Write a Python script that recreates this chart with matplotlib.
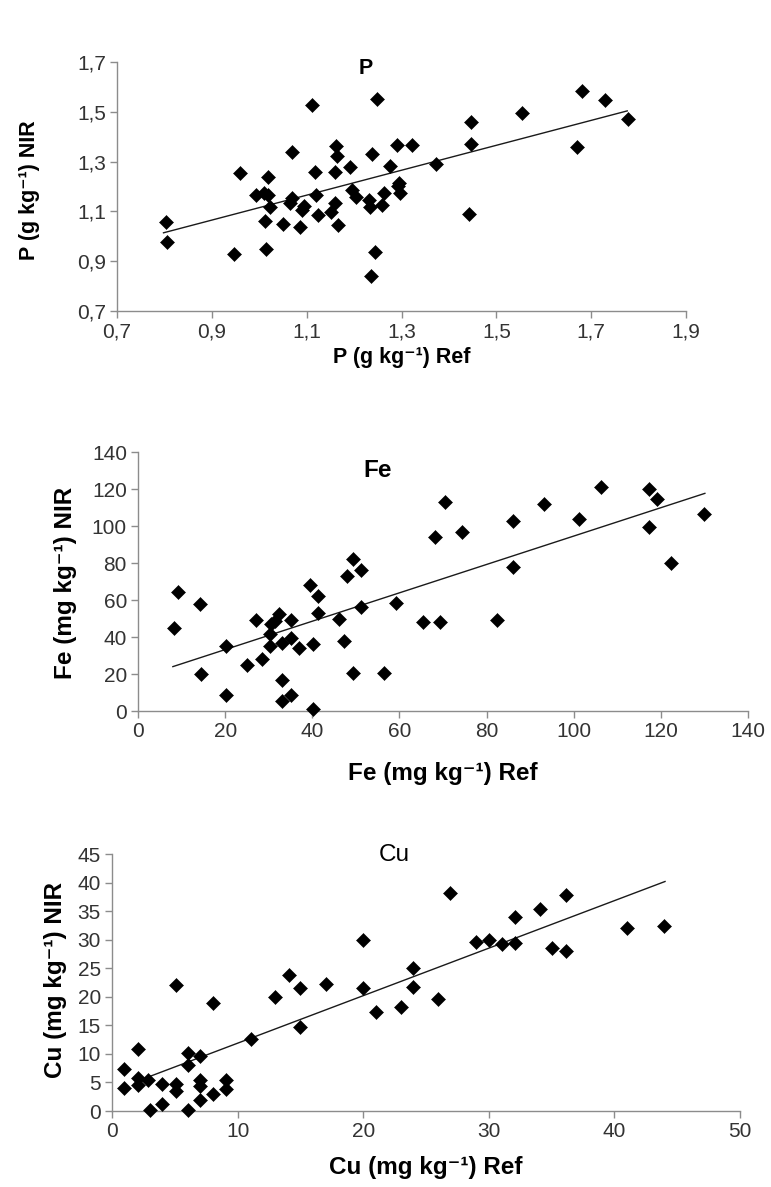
import matplotlib
matplotlib.use("Agg")
import matplotlib.pyplot as plt
import numpy as np

plt.rcParams['font.family'] = ['Liberation Sans', 'DejaVu Sans']

# P (g kg-1): reference vs NIR
p_ref = [0.803, 0.805, 0.947, 0.960, 0.993, 1.010, 1.019, 1.019, 1.023, 1.012,
         1.015, 1.051, 1.065, 1.068, 1.068, 1.085, 1.091, 1.094, 1.111, 1.118,
         1.120, 1.123, 1.152, 1.159, 1.162, 1.163, 1.160, 1.166, 1.192, 1.196,
         1.203, 1.232, 1.233, 1.238, 1.249, 1.244, 1.236, 1.258, 1.263, 1.275,
         1.290, 1.293, 1.297, 1.295, 1.323, 1.373, 1.447, 1.447, 1.442, 1.554,
         1.670, 1.681, 1.729, 1.778]
p_nir = [1.058, 0.977, 0.929, 1.253, 1.166, 1.172, 1.237, 1.166, 1.118, 1.062,
         0.950, 1.051, 1.132, 1.152, 1.337, 1.037, 1.105, 1.121, 1.526, 1.257,
         1.166, 1.085, 1.098, 1.132, 1.364, 1.323, 1.257, 1.044, 1.278, 1.186,
         1.159, 1.145, 1.118, 1.332, 1.553, 0.936, 0.842, 1.125, 1.175, 1.283,
         1.368, 1.202, 1.172, 1.213, 1.368, 1.291, 1.458, 1.372, 1.091, 1.494,
         1.359, 1.584, 1.546, 1.472]
p_fit = [0.5005, 0.6146]      # slope, intercept
p_fit_range = [0.798, 1.776]

# Fe (mg kg-1)
fe_ref = [8.2, 9.2, 14.3, 14.4, 20.3, 20.3, 25.1, 27.1, 28.4, 30.2, 30.2, 30.5,
          31.5, 32.3, 33.0, 33.0, 33.0, 35.2, 35.2, 35.2, 37.0, 39.5, 40.2, 40.2,
          41.3, 41.3, 46.2, 47.2, 48.0, 49.3, 49.3, 51.2, 51.2, 56.4, 59.1, 65.4,
          68.2, 69.2, 70.5, 74.3, 82.3, 86.1, 86.1, 93.2, 101.2, 106.2, 117.3,
          119.1, 117.3, 122.3, 130.0]
fe_nir = [45.0, 64.3, 57.7, 20.2, 35.1, 8.5, 24.9, 49.0, 27.9, 35.1, 41.4, 46.8,
          48.6, 52.3, 36.9, 16.6, 5.4, 49.0, 39.6, 8.6, 33.9, 67.9, 36.0, 0.9,
          62.2, 53.2, 49.5, 37.8, 73.0, 82.0, 20.7, 76.0, 56.2, 20.7, 58.6, 48.1,
          94.2, 48.1, 113.0, 96.9, 49.0, 102.7, 78.0, 111.7, 103.6, 121.3, 120.2,
          114.4, 99.6, 80.2, 106.3]
fe_fit = [0.767, 17.86]
fe_fit_range = [8.0, 130.1]

# Cu (mg kg-1)
cu_ref = [0.97, 0.97, 2.07, 2.07, 2.07, 2.9, 3.0, 3.97, 3.97, 5.07, 5.07, 5.07,
          6.03, 6.03, 6.03, 7.0, 7.0, 7.0, 7.0, 8.03, 8.03, 9.07, 9.07, 11.03,
          13.0, 14.07, 15.0, 15.0, 17.0, 20.0, 20.0, 21.0, 23.0, 23.97, 23.97,
          25.97, 26.9, 28.97, 30.0, 31.03, 32.07, 32.07, 34.07, 35.0, 36.14,
          36.14, 40.97, 43.97]
cu_nir = [7.4, 4.1, 10.9, 5.7, 4.5, 5.5, 0.2, 4.7, 1.3, 22.0, 4.8, 3.5,
          10.2, 8.1, 0.2, 9.7, 5.4, 4.4, 2.0, 19.0, 3.0, 5.5, 3.8, 12.6,
          19.9, 23.8, 21.5, 14.8, 22.3, 30.0, 21.5, 17.4, 18.2, 25.1, 21.8,
          19.6, 38.2, 29.6, 29.9, 29.2, 33.9, 29.5, 35.4, 28.6, 37.8,
          28.0, 32.1, 32.4]
cu_fit = [0.832, 3.56]
cu_fit_range = [2.93, 44.03]

p_ticks_x = [0.7, 0.9, 1.1, 1.3, 1.5, 1.7, 1.9]
p_ticks_y = [0.7, 0.9, 1.1, 1.3, 1.5, 1.7]
fe_ticks = [0, 20, 40, 60, 80, 100, 120, 140]
cu_ticks_x = [0, 10, 20, 30, 40, 50]
cu_ticks_y = [0, 5, 10, 15, 20, 25, 30, 35, 40, 45]

fig = plt.figure(figsize=(7.71, 11.87), dpi=100)

axes_rects = [
    [0.1518, 0.738, 0.738, 0.2098],
    [0.179, 0.401, 0.7912, 0.2182],
    [0.1453, 0.064, 0.8145, 0.2165],
]

panels = [
    dict(x=p_ref, y=p_nir, fit=p_fit, rng=p_fit_range, xt=p_ticks_x, yt=p_ticks_y,
         comma=True, title='P', tw='bold', tpos=(0.425, 0.975),
         xl='P (g kg\u207b\u00b9) Ref', yl='P (g kg\u207b\u00b9) NIR', lsize=15.5,
         ylc=-0.135, yly=0.486, xly=-0.145),
    dict(x=fe_ref, y=fe_nir, fit=fe_fit, rng=fe_fit_range, xt=fe_ticks, yt=fe_ticks,
         comma=False, title='Fe', tw='bold', tpos=(0.37, 0.927),
         xl='Fe (mg kg\u207b\u00b9) Ref', yl='Fe (mg kg\u207b\u00b9) NIR', lsize=17.5,
         ylc=-0.100, yly=0.494, xly=-0.197),
    dict(x=cu_ref, y=cu_nir, fit=cu_fit, rng=cu_fit_range, xt=cu_ticks_x, yt=cu_ticks_y,
         comma=False, title='Cu', tw='normal', tpos=(0.425, 0.996),
         xl='Cu (mg kg\u207b\u00b9) Ref', yl='Cu (mg kg\u207b\u00b9) NIR', lsize=17.5,
         ylc=-0.072, yly=0.51, xly=-0.174),
]

for rect, pn in zip(axes_rects, panels):
    ax = fig.add_axes(rect)
    ax.plot(pn['x'], pn['y'], 'D', color='black', markersize=7.3, markeredgewidth=0.4,
            clip_on=False, zorder=3)
    fx = np.array(pn['rng'])
    ax.plot(fx, pn['fit'][0] * fx + pn['fit'][1], color='#1a1a1a', linewidth=1.0, zorder=2)

    ax.set_xlim(pn['xt'][0], pn['xt'][-1])
    ax.set_ylim(pn['yt'][0], pn['yt'][-1])
    ax.set_xticks(pn['xt'])
    ax.set_yticks(pn['yt'])
    if pn['comma']:
        ax.set_xticklabels([f'{v:.1f}'.replace('.', ',') for v in pn['xt']])
        ax.set_yticklabels([f'{v:.1f}'.replace('.', ',') for v in pn['yt']])

    for s in ['top', 'right']:
        ax.spines[s].set_visible(False)
    for s in ['left', 'bottom']:
        ax.spines[s].set_color('#8c8c8c')
        ax.spines[s].set_linewidth(1.0)
    ax.tick_params(direction='out', length=5, width=1.0, color='#8c8c8c',
                   labelsize=15, labelcolor='#333333', pad=3)

    ax.text(pn['tpos'][0], pn['tpos'][1], pn['title'], transform=ax.transAxes,
            ha='left', va='center', fontsize=pn['lsize'], fontweight=pn['tw'])

    ax.set_xlabel(pn['xl'], fontsize=pn['lsize'], fontweight='bold')
    ax.set_ylabel(pn['yl'], fontsize=pn['lsize'], fontweight='bold')
    ax.xaxis.set_label_coords(0.5, pn['xly'])
    ax.yaxis.set_label_coords(pn['ylc'], pn['yly'])

fig.savefig('out.png', dpi=100)
